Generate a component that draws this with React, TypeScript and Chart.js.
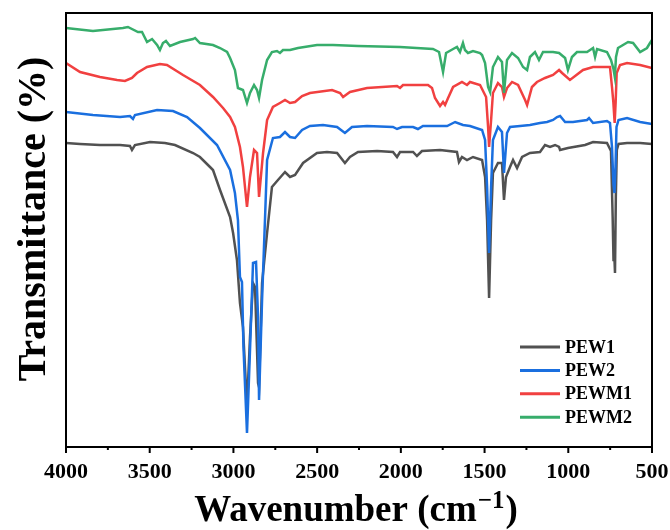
import React, { useEffect, useRef } from "react";
import { Chart, registerables } from "chart.js";

Chart.register(...registerables);

// Wavenumber (cm-1), transmittance (arbitrary offset units)
const seriesNames = ["PEW1", "PEW2", "PEWM1", "PEWM2"];
const seriesColors = ["#515151", "#1A6FDF", "#F14040", "#37AD6B"];
const xTickValues = [4000, 3500, 3000, 2500, 2000, 1500, 1000, 500];
const xMinorTickValues = [3750, 3250, 2750, 2250, 1750, 1250, 750];

const pew1 = [
  [4000, 304], [3916, 303], [3797, 302], [3677, 302], [3618, 301], [3606, 297], [3588, 302], [3498, 305],
  [3409, 304], [3349, 302], [3241, 294], [3200, 290], [3140, 280], [3122, 277], [3080, 257], [3020, 230],
  [3002, 214], [2979, 187], [2961, 144], [2943, 120], [2919, 40], [2901, 110], [2883, 164], [2871, 160],
  [2853, 64], [2847, 60], [2829, 164], [2799, 214], [2770, 260], [2734, 267], [2692, 275], [2662, 270],
  [2632, 272], [2584, 284], [2501, 294], [2441, 295], [2381, 294], [2334, 284], [2304, 290], [2256, 295],
  [2142, 296], [2047, 295], [2023, 290], [2005, 295], [1927, 295], [1904, 291], [1874, 296], [1766, 297],
  [1665, 295], [1653, 285], [1635, 290], [1605, 287], [1569, 290], [1515, 287], [1497, 270], [1485, 227],
  [1473, 149], [1461, 227], [1450, 274], [1420, 284], [1396, 284], [1384, 247], [1372, 270], [1348, 280],
  [1330, 287], [1306, 279], [1276, 290], [1229, 294], [1169, 295], [1139, 302], [1109, 300], [1079, 302],
  [1055, 300], [1049, 297], [1002, 299], [900, 302], [852, 305], [769, 304], [745, 296], [735, 230],
  [730, 187], [727, 200], [721, 174], [716, 250], [710, 297], [700, 303], [649, 304], [571, 304], [500, 303],
];

const pew2 = [
  [4000, 335], [3839, 332], [3677, 330], [3618, 331], [3600, 328], [3588, 332], [3456, 337], [3361, 336],
  [3277, 330], [3200, 319], [3098, 302], [3020, 277], [2991, 254], [2973, 227], [2961, 170], [2949, 165],
  [2940, 100], [2919, 14], [2901, 97], [2883, 184], [2865, 185], [2853, 130], [2847, 47], [2829, 147],
  [2811, 230], [2799, 287], [2764, 309], [2722, 310], [2692, 315], [2662, 310], [2632, 309], [2590, 317],
  [2543, 321], [2465, 322], [2381, 320], [2334, 314], [2292, 320], [2202, 321], [2047, 320], [2023, 318],
  [1993, 320], [1927, 320], [1898, 318], [1868, 321], [1724, 321], [1676, 325], [1629, 322], [1587, 321],
  [1515, 317], [1497, 307], [1485, 260], [1473, 194], [1461, 260], [1450, 307], [1420, 320], [1396, 315],
  [1384, 274], [1366, 314], [1348, 320], [1288, 321], [1229, 322], [1169, 324], [1127, 325], [1091, 327],
  [1067, 330], [1049, 331], [1019, 325], [972, 325], [888, 327], [876, 329], [852, 324], [769, 326],
  [751, 324], [739, 300], [730, 262], [724, 254], [718, 280], [712, 320], [700, 327], [649, 329],
  [571, 325], [500, 323],
];

const pewm1 = [
  [4000, 384], [3916, 375], [3797, 370], [3695, 367], [3648, 366], [3606, 369], [3576, 374], [3516, 380],
  [3439, 383], [3397, 382], [3301, 372], [3200, 362], [3122, 350], [3062, 339], [3020, 330], [2991, 320],
  [2961, 300], [2943, 280], [2919, 240], [2901, 270], [2877, 297], [2859, 294], [2847, 250], [2823, 294],
  [2799, 327], [2764, 340], [2722, 344], [2692, 347], [2662, 344], [2632, 345], [2590, 351], [2543, 354],
  [2411, 357], [2363, 354], [2345, 350], [2304, 355], [2202, 359], [2023, 361], [2005, 359], [1987, 362],
  [1838, 362], [1814, 359], [1796, 349], [1766, 341], [1748, 345], [1736, 342], [1718, 349], [1688, 360],
  [1635, 365], [1605, 362], [1587, 365], [1527, 362], [1491, 350], [1479, 320], [1473, 300], [1461, 327],
  [1450, 354], [1420, 364], [1396, 360], [1384, 350], [1366, 359], [1336, 365], [1300, 362], [1258, 347],
  [1246, 342], [1217, 360], [1187, 365], [1139, 369], [1091, 372], [1055, 377], [1037, 374], [990, 367],
  [912, 377], [852, 380], [751, 380], [739, 360], [731, 345], [723, 324], [717, 345], [711, 374],
  [691, 382], [649, 384], [571, 382], [500, 379],
];

const pewm2 = [
  [4000, 419], [3839, 416], [3660, 419], [3630, 420], [3570, 415], [3546, 415], [3516, 405], [3486, 408],
  [3456, 402], [3439, 397], [3421, 404], [3403, 406], [3379, 401], [3319, 405], [3241, 408], [3229, 409],
  [3200, 404], [3122, 402], [3080, 399], [3038, 395], [3020, 389], [2991, 377], [2973, 359], [2943, 357],
  [2919, 344], [2901, 354], [2877, 362], [2859, 357], [2847, 349], [2829, 367], [2799, 387], [2770, 395],
  [2740, 396], [2722, 394], [2704, 397], [2662, 397], [2614, 399], [2501, 402], [2405, 402], [2256, 401],
  [2005, 400], [1808, 398], [1772, 395], [1748, 375], [1730, 394], [1688, 398], [1665, 400], [1647, 395],
  [1629, 404], [1617, 397], [1599, 394], [1569, 396], [1527, 394], [1515, 392], [1497, 384], [1479, 360],
  [1467, 355], [1450, 380], [1420, 390], [1396, 385], [1384, 354], [1366, 387], [1336, 394], [1300, 389],
  [1270, 380], [1246, 377], [1229, 390], [1199, 395], [1175, 387], [1151, 395], [1091, 395], [1055, 394],
  [1019, 389], [1002, 377], [978, 390], [948, 395], [888, 395], [852, 399], [840, 390], [828, 398],
  [769, 395], [745, 387], [730, 378], [722, 370], [715, 390], [703, 399], [643, 405], [613, 404],
  [571, 395], [530, 399], [512, 404], [500, 407],
];

const allSeries = [pew1, pew2, pewm1, pewm2];

const FONT = "'Liberation Serif', 'Times New Roman', serif";

const decorPlugin = {
  id: "decor",
  afterDraw(chart: any) {
    const { ctx, chartArea: a, scales } = chart;
    const xs = scales.x;
    ctx.save();
    // frame
    ctx.strokeStyle = "#000";
    ctx.lineWidth = 2;
    ctx.strokeRect(a.left, a.top, a.right - a.left, a.bottom - a.top);
    // ticks
    ctx.lineWidth = 2;
    ctx.beginPath();
    xTickValues.forEach((v) => {
      const p = xs.getPixelForValue(v);
      ctx.moveTo(p, a.bottom);
      ctx.lineTo(p, a.bottom + 6);
    });
    xMinorTickValues.forEach((v) => {
      const p = xs.getPixelForValue(v);
      ctx.moveTo(p, a.bottom);
      ctx.lineTo(p, a.bottom + 3);
    });
    ctx.stroke();

    // legend
    ctx.font = `bold 18px ${FONT}`;
    ctx.textBaseline = "middle";
    ctx.textAlign = "left";
    seriesNames.forEach((name, i) => {
      const y = 347 + i * 23.4;
      ctx.strokeStyle = seriesColors[i];
      ctx.lineWidth = 3;
      ctx.beginPath();
      ctx.moveTo(520, y);
      ctx.lineTo(560, y);
      ctx.stroke();
      ctx.fillStyle = "#000";
      ctx.fillText(name, 565, y + 1);
    });

    // x title
    ctx.fillStyle = "#000";
    ctx.textBaseline = "alphabetic";
    const bigX = `bold 37px ${FONT}`;
    const small = `bold 25px ${FONT}`;
    const t1 = "Wavenumber (cm";
    const t2 = "\u22121";
    const t3 = ")";
    ctx.font = bigX;
    const w1 = ctx.measureText(t1).width;
    const w3 = ctx.measureText(t3).width;
    ctx.font = small;
    const w2 = ctx.measureText(t2).width;
    const total = w1 + w2 + w3 + 2;
    const cx = 356;
    let sx = cx - total / 2;
    const by = 521;
    ctx.font = bigX;
    ctx.fillText(t1, sx, by);
    sx += w1 + 1;
    ctx.font = small;
    ctx.fillText(t2, sx, by - 13);
    sx += w2 + 1;
    ctx.font = bigX;
    ctx.fillText(t3, sx, by);

    // y title
    ctx.save();
    ctx.translate(45, 219);
    ctx.rotate(-Math.PI / 2);
    ctx.textAlign = "center";
    ctx.font = `bold 40px ${FONT}`;
    ctx.fillText("Transmittance (%)", 0, 0);
    ctx.restore();

    ctx.restore();
  },
};

export default function App() {
  const ref = useRef<HTMLCanvasElement>(null);
  useEffect(() => {
    if (!ref.current) return;
    const orders = [4, 3, 2, 1];
    const chart = new Chart(ref.current, {
      type: "line",
      data: {
        datasets: allSeries.map((s, i) => ({
          label: seriesNames[i],
          data: s.map(([x, y]) => ({ x, y })),
          borderColor: seriesColors[i],
          backgroundColor: seriesColors[i],
          borderWidth: 2.5,
          pointRadius: 0,
          tension: 0,
          fill: false,
          order: orders[i],
        })),
      },
      options: {
        responsive: false,
        animation: false,
        layout: { padding: { top: 13, right: 18, left: 0, bottom: 0 } },
        plugins: { legend: { display: false }, tooltip: { enabled: false } },
        scales: {
          x: {
            type: "linear",
            reverse: true,
            min: 500,
            max: 4000,
            grid: { display: false, drawTicks: false },
            border: { display: false },
            afterBuildTicks: (scale: any) => {
              scale.ticks = xTickValues.map((v) => ({ value: v }));
            },
            afterFit: (scale: any) => {
              scale.height = 83;
              scale.paddingLeft = 0;
              scale.paddingRight = 0;
            },
            ticks: {
              autoSkip: false,
              maxRotation: 0,
              padding: 12,
              color: "#000",
              font: { family: FONT, weight: "bold", size: 22 },
              callback: (v: any) => String(v),
            },
          },
          y: {
            min: 0,
            max: 434,
            grid: { display: false, drawTicks: false },
            border: { display: false },
            ticks: { display: false },
            afterFit: (scale: any) => {
              scale.width = 66;
              scale.paddingTop = 0;
              scale.paddingBottom = 0;
            },
          },
        },
      },
      plugins: [decorPlugin],
    });
    return () => chart.destroy();
  }, []);
  return (
    <div style={{ position: "absolute", left: 0, top: 0, width: 670, height: 530, background: "#fff" }}>
      <canvas ref={ref} width={670} height={530} style={{ display: "block" }} />
    </div>
  );
}
